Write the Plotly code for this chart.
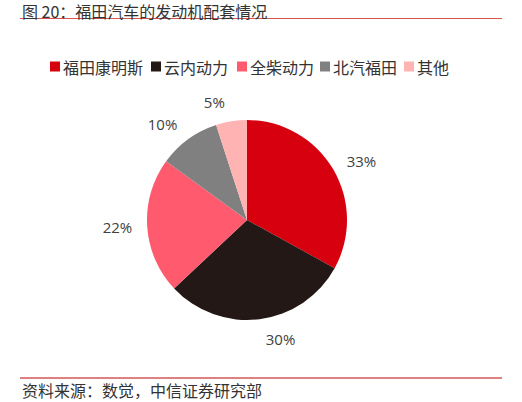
import plotly.graph_objects as go

labels = ["福田康明斯", "云内动力", "全柴动力", "北汽福田", "其他"]
values = [33, 30, 22, 10, 5]
colors = ["#D7000F", "#231815", "#FF5A6E", "#808080", "#FFB3B3"]

title_text = "图 20：福田汽车的发动机配套情况"
source_text = "资料来源：数觉，中信证券研究部"

FONT = "Noto Sans CJK SC"
W, H = 522, 402

def px(x):
    return x / W

def py(y):
    return 1 - y / H

# the visible pie
fig = go.Figure(go.Pie(
    labels=labels,
    values=values,
    sort=False,
    direction="clockwise",
    rotation=0,
    marker=dict(colors=colors, line=dict(width=0)),
    textinfo="none",
    hoverinfo="label+percent",
    showlegend=False,
    domain=dict(x=[px(147), px(347)], y=[py(320), py(120)]),
))
# invisible, slightly larger pie carrying the outside percentage labels
fig.add_trace(go.Pie(
    labels=labels,
    values=values,
    sort=False,
    direction="clockwise",
    rotation=0,
    marker=dict(colors=["rgba(0,0,0,0)"] * len(values), line=dict(width=0)),
    textposition="outside",
    texttemplate="%{percent:.0%}",
    textfont=dict(size=15, color="#404040", family="Open Sans"),
    hoverinfo="skip",
    showlegend=False,
    domain=dict(x=[px(137), px(357)], y=[py(330), py(110)]),
))

legend_sq_x = [50, 151, 237, 320, 404]
shapes = [
    dict(type="line", xref="paper", yref="paper", x0=px(20), x1=px(502),
         y0=py(18.5), y1=py(18.5), line=dict(color="#D9534F", width=1.2)),
    dict(type="line", xref="paper", yref="paper", x0=px(20), x1=px(502),
         y0=py(378), y1=py(378), line=dict(color="#C00000", width=1)),
]
annotations = [
    dict(text=title_text, x=px(20), y=py(11), xref="paper", yref="paper",
         xanchor="left", yanchor="middle", showarrow=False,
         font=dict(size=16, color="#333333", family=FONT)),
    dict(text=source_text, x=px(20), y=py(390), xref="paper", yref="paper",
         xanchor="left", yanchor="middle", showarrow=False,
         font=dict(size=16, color="#333333", family=FONT)),
]
for lab, col, sx in zip(labels, colors, legend_sq_x):
    shapes.append(dict(type="rect", xref="paper", yref="paper",
                       x0=px(sx), x1=px(sx + 10), y0=py(71.5), y1=py(61.5),
                       fillcolor=col, line=dict(width=0)))
    annotations.append(dict(text=lab, x=px(sx + 11), y=py(66.5), xref="paper", yref="paper",
                            xanchor="left", yanchor="middle", showarrow=False,
                            font=dict(size=16, color="#333333", family=FONT)))

fig.update_layout(
    width=W, height=H,
    margin=dict(l=0, r=0, t=0, b=0),
    paper_bgcolor="white",
    plot_bgcolor="white",
    font=dict(family=FONT, color="#333333"),
    showlegend=False,
    annotations=annotations,
    shapes=shapes,
)

fig.write_html("out.html", config={"displayModeBar": False},
               post_script="document.body.style.margin='0';")
